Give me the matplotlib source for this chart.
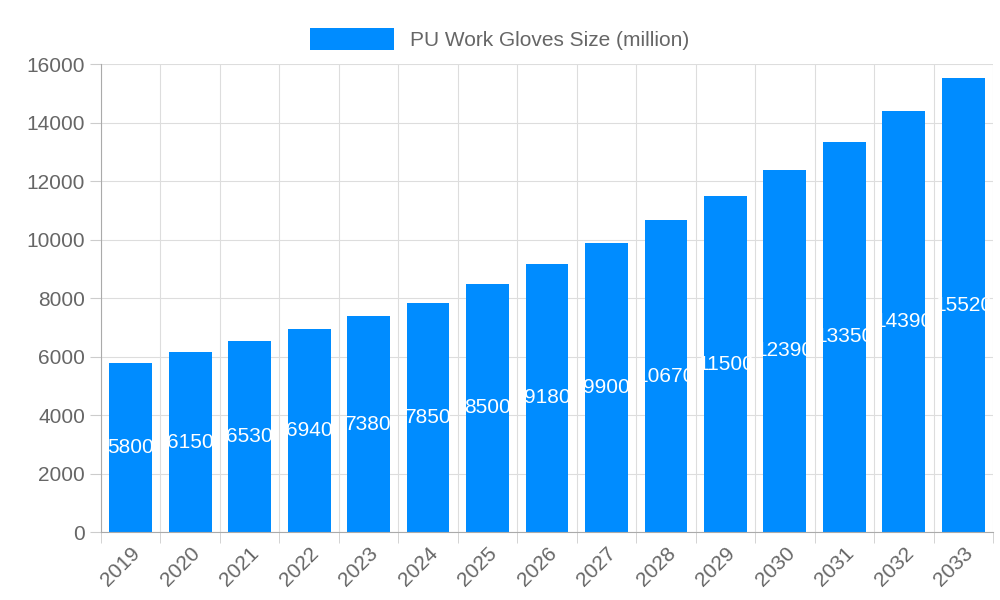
import numpy as np
import matplotlib
matplotlib.use("Agg")
import matplotlib.pyplot as plt

plt.rcParams['font.family'] = ['Liberation Sans', 'DejaVu Sans']

years = ['2019', '2020', '2021', '2022', '2023', '2024', '2025', '2026',
         '2027', '2028', '2029', '2030', '2031', '2032', '2033']
sizes = [5800, 6150, 6530, 6940, 7380, 7850, 8500, 9180,
         9900, 10670, 11500, 12390, 13350, 14390, 15520]

fig = plt.figure(figsize=(10, 6), dpi=100)
ax = fig.add_axes([0.101, 0.113, 0.892, 0.78])

x = np.arange(len(years))
bars = ax.bar(x, sizes, width=0.72, color='#008cff', label='PU Work Gloves Size (million)', zorder=2)
for xi, v in zip(x, sizes):
    ax.text(xi, v / 2, str(v), ha='center', va='center', color='white', fontsize=15, zorder=3)

ax.set_xlim(-0.5, len(years) - 0.5)
ax.set_ylim(0, 16000)
ax.set_yticks(range(0, 16001, 2000))
ax.set_xticks(x)
ax.set_xticklabels(years, rotation=45, ha='right', rotation_mode='anchor')
ax.set_xticks(np.arange(-0.5, len(years), 1), minor=True)
ax.tick_params(axis='x', which='major', length=0, labelsize=15, colors='#666666', pad=8)
ax.tick_params(axis='x', which='minor', length=8, color='#cccccc')
ax.tick_params(axis='y', labelsize=15, colors='#666666', length=8, color='#cccccc')
ax.grid(axis='y', color='#dddddd', zorder=0)
ax.grid(axis='x', which='minor', color='#dddddd', zorder=0)
for s in ['top', 'right']:
    ax.spines[s].set_visible(False)
ax.spines['left'].set_color('#aaaaaa')
ax.spines['bottom'].set_color('#aaaaaa')

fig.legend(loc='upper center', bbox_to_anchor=(0.5, 0.985), frameon=False, fontsize=15,
           handlelength=4, handleheight=1.3, labelcolor='#666666')

fig.savefig('out.png')
